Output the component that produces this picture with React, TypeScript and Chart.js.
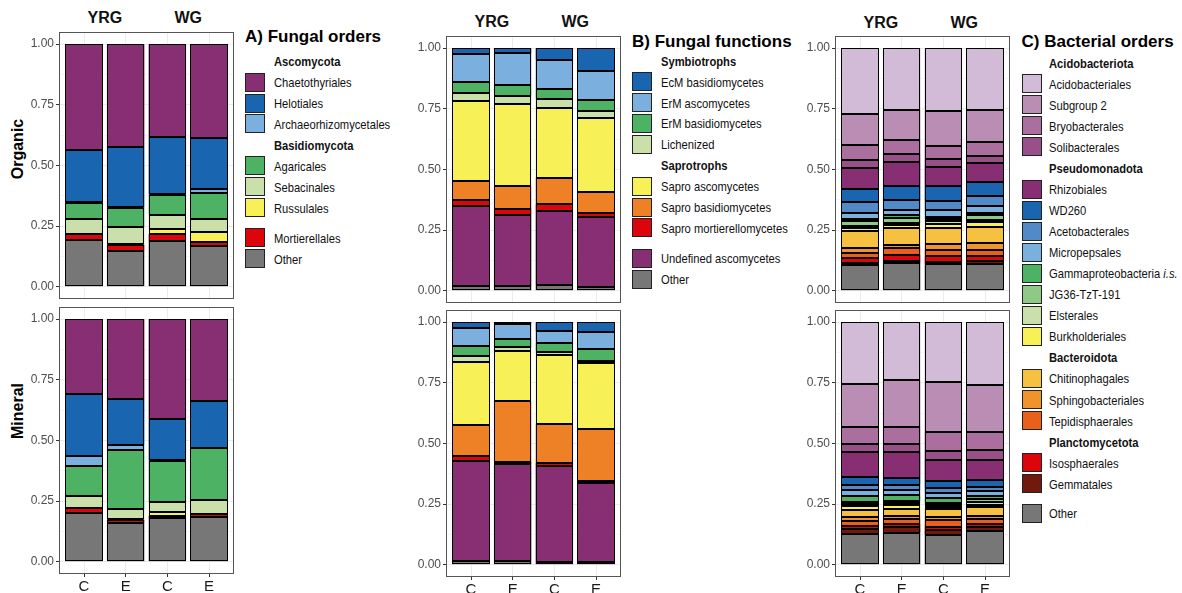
import React, { useEffect, useRef } from 'react';
import { Chart, registerables } from 'chart.js';

Chart.register(...registerables);
const FONT = "'Liberation Sans', Arial, Helvetica, sans-serif";
Chart.defaults.font.family = FONT;

// ---------- shared axis data ----------
const sampleLabels = ['C', 'E', 'C', 'E'];
const sitePositions = [1, 2, 3, 4];
const siteHeaders = ['YRG', 'WG'];
const horizonLabels = ['Organic', 'Mineral'];
const yGridValues = [0, 0.125, 0.25, 0.375, 0.5, 0.625, 0.75, 0.875, 1];

// ---------- A) Fungal orders (rows in legend order, top of stack first) ----------
const fungalOrderNames = ['Chaetothyriales', 'Helotiales', 'Archaeorhizomycetales', 'Agaricales', 'Sebacinales', 'Russulales', 'Mortierellales', 'Other'];
const fungalOrderColors = ['#882E72', '#1965B0', '#7BAFDE', '#4EB265', '#CAE0AB', '#F7F056', '#DC050C', '#777777'];
const fungalOrdersOrganic = [
  [0.436, 0.422, 0.384, 0.385],
  [0.215, 0.251, 0.234, 0.212],
  [0.004, 0.002, 0.004, 0.017],
  [0.064, 0.080, 0.081, 0.105],
  [0.063, 0.070, 0.057, 0.055],
  [0.000, 0.001, 0.022, 0.041],
  [0.023, 0.027, 0.030, 0.015],
  [0.195, 0.147, 0.188, 0.170],
];
const fungalOrdersMineral = [
  [0.310, 0.331, 0.412, 0.338],
  [0.255, 0.187, 0.170, 0.192],
  [0.041, 0.023, 0.003, 0.002],
  [0.122, 0.243, 0.168, 0.215],
  [0.052, 0.040, 0.041, 0.057],
  [0.000, 0.002, 0.016, 0.000],
  [0.017, 0.012, 0.011, 0.011],
  [0.203, 0.162, 0.179, 0.185],
];

// ---------- B) Fungal functions ----------
const fungalFunctionNames = ['EcM basidiomycetes', 'ErM ascomycetes', 'ErM basidiomycetes', 'Lichenized', 'Sapro ascomycetes', 'Sapro basidiomycetes', 'Sapro mortierellomycetes', 'Undefined ascomycetes', 'Other'];
const fungalFunctionColors = ['#1965B0', '#7BAFDE', '#4EB265', '#CAE0AB', '#F7F056', '#EE8026', '#DC050C', '#882E72', '#777777'];
const fungalFunctionsOrganic = [
  [0.026, 0.021, 0.048, 0.095],
  [0.114, 0.129, 0.122, 0.118],
  [0.044, 0.048, 0.038, 0.044],
  [0.035, 0.031, 0.039, 0.031],
  [0.330, 0.338, 0.288, 0.305],
  [0.078, 0.094, 0.108, 0.085],
  [0.025, 0.028, 0.029, 0.017],
  [0.327, 0.293, 0.305, 0.291],
  [0.021, 0.018, 0.023, 0.014],
];
const fungalFunctionsMineral = [
  [0.026, 0.007, 0.038, 0.041],
  [0.071, 0.063, 0.048, 0.070],
  [0.044, 0.034, 0.035, 0.048],
  [0.022, 0.014, 0.016, 0.009],
  [0.262, 0.208, 0.281, 0.272],
  [0.127, 0.249, 0.161, 0.215],
  [0.019, 0.011, 0.014, 0.007],
  [0.415, 0.400, 0.396, 0.327],
  [0.014, 0.014, 0.011, 0.011],
];

// ---------- C) Bacterial orders ----------
const bacterialOrderNames = ['Acidobacteriales', 'Subgroup 2', 'Bryobacterales', 'Solibacterales', 'Rhizobiales', 'WD260', 'Acetobacterales', 'Micropepsales', 'Gammaproteobacteria i.s.', 'JG36-TzT-191', 'Elsterales', 'Burkholderiales', 'Chitinophagales', 'Sphingobacteriales', 'Tepidisphaerales', 'Isosphaerales', 'Gemmatales', 'Other'];
const bacterialOrderColors = ['#D1BBD7', '#BA8DB4', '#AA6F9E', '#994F88', '#882E72', '#1965B0', '#5289C7', '#7BAFDE', '#4EB265', '#90C987', '#CAE0AB', '#F7F056', '#F6C141', '#F1932D', '#E8601C', '#DC050C', '#72190E', '#777777'];
const bacterialOrdersOrganic = [
  [0.270, 0.254, 0.257, 0.254],
  [0.129, 0.126, 0.145, 0.134],
  [0.061, 0.056, 0.054, 0.055],
  [0.035, 0.034, 0.032, 0.030],
  [0.086, 0.096, 0.080, 0.079],
  [0.053, 0.060, 0.063, 0.057],
  [0.045, 0.041, 0.036, 0.041],
  [0.026, 0.022, 0.027, 0.028],
  [0.008, 0.009, 0.008, 0.008],
  [0.021, 0.023, 0.011, 0.020],
  [0.008, 0.009, 0.010, 0.010],
  [0.011, 0.013, 0.016, 0.019],
  [0.071, 0.066, 0.068, 0.068],
  [0.020, 0.016, 0.025, 0.029],
  [0.022, 0.027, 0.025, 0.023],
  [0.019, 0.026, 0.025, 0.022],
  [0.010, 0.007, 0.006, 0.011],
  [0.105, 0.115, 0.112, 0.112],
];
const bacterialOrdersMineral = [
  [0.256, 0.239, 0.248, 0.259],
  [0.176, 0.191, 0.203, 0.195],
  [0.069, 0.072, 0.078, 0.074],
  [0.034, 0.032, 0.037, 0.041],
  [0.101, 0.107, 0.089, 0.081],
  [0.036, 0.028, 0.027, 0.031],
  [0.021, 0.023, 0.021, 0.015],
  [0.025, 0.022, 0.023, 0.021],
  [0.021, 0.021, 0.018, 0.013],
  [0.009, 0.009, 0.008, 0.011],
  [0.010, 0.011, 0.011, 0.011],
  [0.016, 0.014, 0.006, 0.011],
  [0.030, 0.030, 0.035, 0.036],
  [0.014, 0.013, 0.013, 0.011],
  [0.022, 0.018, 0.025, 0.022],
  [0.014, 0.015, 0.016, 0.010],
  [0.017, 0.022, 0.017, 0.020],
  [0.129, 0.133, 0.125, 0.138],
];

// legend structure: string = group header, number = series index, null = spacer
const fungalOrderLegend: (string | number | null)[] = ['Ascomycota', 0, 1, 2, 'Basidiomycota', 3, 4, 5, null, 6, 7];
const fungalFunctionLegend: (string | number | null)[] = ['Symbiotrophs', 0, 1, 2, 3, 'Saprotrophs', 4, 5, 6, null, 7, 8];
const bacterialOrderLegend: (string | number | null)[] = ['Acidobacteriota', 0, 1, 2, 3, 'Pseudomonadota', 4, 5, 6, 7, 8, 9, 10, 11, 'Bacteroidota', 12, 13, 14, 'Planctomycetota', 15, 16, null, 17];

// ---------- layout ----------
const AXIS_W = 50;
const AREA_W = 175;
const AREA_H = 267;
const XAXIS_H = 30;
const X_MIN = 0.4;
const X_MAX = 4.6;

const isMajor = (v: number) => Math.abs(v * 4 - Math.round(v * 4)) < 1e-6;

// crisp black outline around every stacked segment (geometry taken from Chart.js bar elements)
const outlinePlugin = {
  id: 'segmentOutline',
  afterDatasetsDraw(chart: any) {
    const { ctx } = chart;
    ctx.save();
    ctx.strokeStyle = '#000000';
    ctx.lineWidth = 1;
    chart.data.datasets.forEach((_d: any, di: number) => {
      const meta = chart.getDatasetMeta(di);
      meta.data.forEach((el: any) => {
        const p = el.getProps(['x', 'y', 'base', 'width'], true);
        const top = Math.min(p.y, p.base);
        const bottom = Math.max(p.y, p.base);
        if (bottom - top < 0.05) return;
        const l = Math.round(p.x - p.width / 2) + 0.5;
        const r = Math.round(p.x + p.width / 2) - 0.5;
        const t = Math.round(top) + 0.5;
        const b = Math.round(bottom) - 0.5;
        ctx.strokeRect(l, t, r - l, Math.max(b - t, 0));
      });
    });
    ctx.restore();
  },
};

const framePlugin = {
  id: 'panelFrame',
  afterDatasetsDraw(chart: any) {
    const { ctx, chartArea: a } = chart;
    ctx.save();
    ctx.strokeStyle = '#555555';
    ctx.lineWidth = 1;
    ctx.strokeRect(Math.round(a.left) + 0.5, Math.round(a.top) + 0.5, Math.round(a.right - a.left) - 1, Math.round(a.bottom - a.top) - 1);
    ctx.restore();
  },
};

type PanelProps = { left: number; top: number; rows: number[][]; colors: string[]; names: string[]; showX: boolean };

function StackPanel({ left, top, rows, colors, names, showX }: PanelProps) {
  const ref = useRef<HTMLCanvasElement>(null);
  useEffect(() => {
    if (!ref.current) return;
    const datasets = rows
      .map((vals, i) => ({
        label: names[i],
        data: vals.map((v, j) => ({ x: sitePositions[j], y: v })),
        backgroundColor: colors[i],
        borderWidth: 0,
        inflateAmount: 0,
        barPercentage: 0.9,
        categoryPercentage: 1,
      }))
      .reverse();
    const chart = new Chart(ref.current, {
      type: 'bar',
      data: { datasets } as any,
      options: {
        animation: false,
        responsive: false,
        maintainAspectRatio: false,
        layout: { padding: { left: 0, right: 1, top: 1, bottom: showX ? 0 : 1 } },
        plugins: { legend: { display: false }, tooltip: { enabled: false } },
        scales: {
          x: {
            type: 'linear',
            stacked: true,
            offset: false,
            min: X_MIN,
            max: X_MAX,
            afterBuildTicks: (s: any) => {
              s.ticks = sitePositions.map((v) => ({ value: v }));
            },
            afterFit: (s: any) => {
              s.height = showX ? XAXIS_H : 0;
              s.paddingLeft = 0;
              s.paddingRight = 0;
            },
            border: { display: false },
            grid: { offset: false, color: '#EBEBEB', lineWidth: 1, drawTicks: showX, tickLength: 3, tickColor: '#333333' },
            ticks: {
              display: showX,
              autoSkip: false,
              maxRotation: 0,
              padding: 1,
              color: '#1A1A1A',
              font: { size: 15 },
              callback: (_v: any, i: number) => sampleLabels[i],
            },
          },
          y: {
            type: 'linear',
            stacked: true,
            min: -0.05,
            max: 1.05,
            afterBuildTicks: (s: any) => {
              s.ticks = yGridValues.map((v) => ({ value: v }));
            },
            afterFit: (s: any) => {
              s.width = AXIS_W;
              s.paddingTop = 0;
              s.paddingBottom = 0;
            },
            border: { display: false },
            grid: {
              color: '#EBEBEB',
              lineWidth: (c: any) => (c.tick && isMajor(c.tick.value) ? 1 : 0.5),
              drawTicks: true,
              tickLength: 3,
              tickColor: (c: any) => (c.tick && isMajor(c.tick.value) ? '#333333' : 'rgba(0,0,0,0)'),
            },
            ticks: {
              autoSkip: false,
              padding: 2,
              color: '#4D4D4D',
              font: { size: 12 },
              callback: (v: any) => (isMajor(Number(v)) ? Number(v).toFixed(2) : ''),
            },
          },
        },
      } as any,
      plugins: [outlinePlugin, framePlugin],
    });
    return () => chart.destroy();
  }, []);
  const w = AXIS_W + AREA_W + 1;
  const h = 1 + AREA_H + (showX ? XAXIS_H : 1);
  return <canvas ref={ref} width={w} height={h} style={{ position: 'absolute', left, top, width: w, height: h }} />;
}

function StripLabels({ areaLeft, y }: { areaLeft: number; y: number }) {
  const unit = AREA_W / (X_MAX - X_MIN);
  const centers = [1.5, 3.5].map((v) => areaLeft + (v - X_MIN) * unit);
  return (
    <>
      {siteHeaders.map((t, i) => (
        <div
          key={t}
          style={{ position: 'absolute', left: centers[i], top: y, transform: 'translate(-50%, -50%)', fontWeight: 'bold', fontSize: 16, lineHeight: 1, color: '#111', whiteSpace: 'nowrap' }}
        >
          {t}
        </div>
      ))}
    </>
  );
}

type LegendProps = {
  title: string;
  x: number;
  titleY: number;
  textX: number;
  startY: number;
  step: number;
  gap: number;
  entries: (string | number | null)[];
  names: string[];
  colors: string[];
};

function renderName(n: string) {
  if (n.endsWith(' i.s.')) {
    return (
      <>
        {n.slice(0, -4)}
        <i>i.s.</i>
      </>
    );
  }
  return n;
}

function Legend({ title, x, titleY, textX, startY, step, gap, entries, names, colors }: LegendProps) {
  let y = startY;
  const items: React.ReactNode[] = [];
  entries.forEach((e, k) => {
    if (e === null) {
      y += gap;
      return;
    }
    const cy = y;
    if (typeof e === 'string') {
      items.push(
        <div key={'h' + k} style={{ position: 'absolute', left: textX, top: cy, transform: 'translateY(-50%) scaleX(0.86)', transformOrigin: 'left center', fontWeight: 'bold', fontSize: 13, lineHeight: 1, color: '#111', whiteSpace: 'nowrap' }}>
          {e}
        </div>
      );
    } else {
      items.push(
        <div key={'k' + k} style={{ position: 'absolute', left: x, top: cy - 9.5, width: 20, height: 19, boxSizing: 'border-box', border: '1px solid #222', background: colors[e] }} />
      );
      items.push(
        <div key={'t' + k} style={{ position: 'absolute', left: textX, top: cy, transform: 'translateY(-50%) scaleX(0.86)', transformOrigin: 'left center', fontSize: 13, lineHeight: 1, color: '#111', whiteSpace: 'nowrap' }}>
          {renderName(names[e])}
        </div>
      );
    }
    y += step;
  });
  return (
    <>
      <div style={{ position: 'absolute', left: x, top: titleY, transform: 'translateY(-50%)', fontWeight: 'bold', fontSize: 17, lineHeight: 1, color: '#000', whiteSpace: 'nowrap' }}>{title}</div>
      {items}
    </>
  );
}

export default function App() {
  return (
    <div style={{ position: 'fixed', left: 0, top: 0, width: 1182, height: 593, overflow: 'hidden', background: '#fff', fontFamily: FONT }}>
      {/* row labels */}
      {[149, 411].map((cy, i) => (
        <div key={horizonLabels[i]} style={{ position: 'absolute', left: 17.5, top: cy, transform: 'translate(-50%, -50%) rotate(-90deg)', fontWeight: 'bold', fontSize: 16, lineHeight: 1, color: '#000', whiteSpace: 'nowrap' }}>
          {horizonLabels[i]}
        </div>
      ))}

      {/* Panel A */}
      <StripLabels areaLeft={59} y={18} />
      <StackPanel left={9} top={31} rows={fungalOrdersOrganic} colors={fungalOrderColors} names={fungalOrderNames} showX={false} />
      <StackPanel left={9} top={306} rows={fungalOrdersMineral} colors={fungalOrderColors} names={fungalOrderNames} showX={true} />
      <Legend title="A) Fungal orders" x={245} titleY={36} textX={274} startY={61.2} step={20.9} gap={9.5} entries={fungalOrderLegend} names={fungalOrderNames} colors={fungalOrderColors} />

      {/* Panel B */}
      <StripLabels areaLeft={446} y={22} />
      <StackPanel left={396} top={35} rows={fungalFunctionsOrganic} colors={fungalFunctionColors} names={fungalFunctionNames} showX={false} />
      <StackPanel left={396} top={309} rows={fungalFunctionsMineral} colors={fungalFunctionColors} names={fungalFunctionNames} showX={true} />
      <Legend title="B) Fungal functions" x={632} titleY={40.7} textX={660.7} startY={60.7} step={20.9} gap={9.5} entries={fungalFunctionLegend} names={fungalFunctionNames} colors={fungalFunctionColors} />

      {/* Panel C */}
      <StripLabels areaLeft={835} y={22.5} />
      <StackPanel left={785} top={35} rows={bacterialOrdersOrganic} colors={bacterialOrderColors} names={bacterialOrderNames} showX={false} />
      <StackPanel left={785} top={309} rows={bacterialOrdersMineral} colors={bacterialOrderColors} names={bacterialOrderNames} showX={true} />
      <Legend title="C) Bacterial orders" x={1021.5} titleY={40.7} textX={1049.3} startY={62.7} step={21.05} gap={8.5} entries={bacterialOrderLegend} names={bacterialOrderNames} colors={bacterialOrderColors} />
    </div>
  );
}
